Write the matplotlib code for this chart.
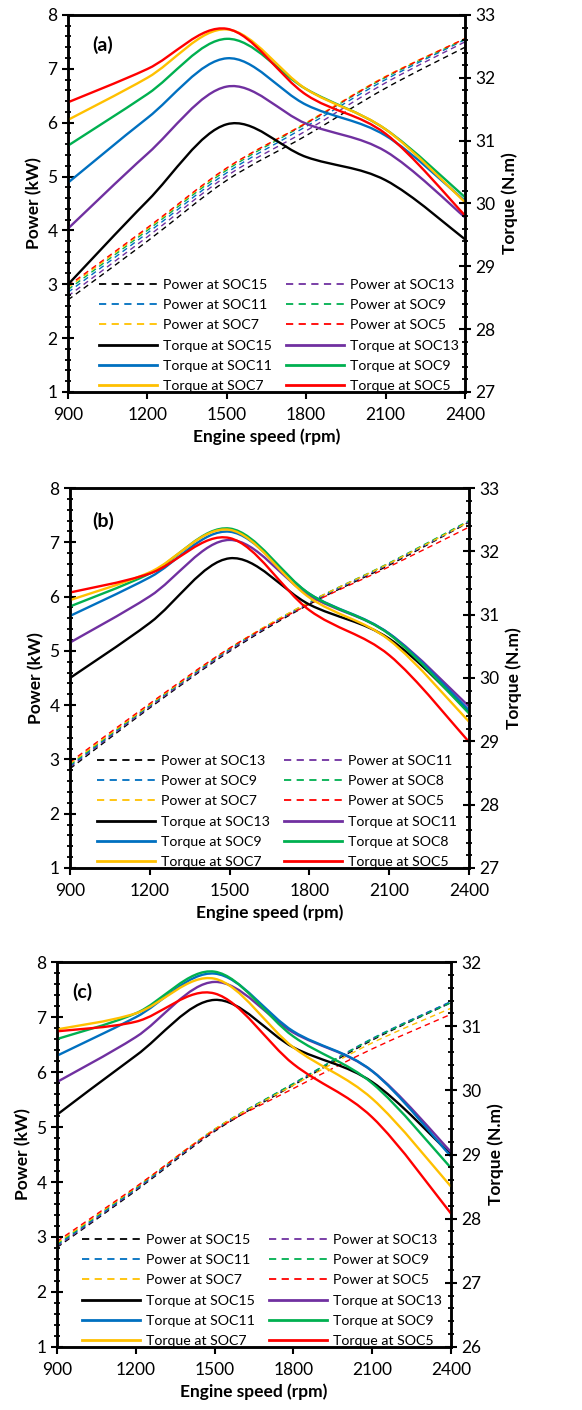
import matplotlib
matplotlib.use("Agg")
import matplotlib.pyplot as plt
from matplotlib.path import Path
from matplotlib.patches import PathPatch
from matplotlib.lines import Line2D
from matplotlib.ticker import MultipleLocator

plt.rcParams['font.family'] = ['Lato', 'DejaVu Sans']

# Engine speed (rpm)
speed = [900, 1200, 1500, 1800, 2100, 2400]
colors = ['#000000', '#7030A0', '#0070C0', '#00B050', '#FFC000', '#FF0000']

# (a)
soc_a = ['SOC15', 'SOC13', 'SOC11', 'SOC9', 'SOC7', 'SOC5']
power_a = [
    [2.71, 3.80, 4.93, 5.76, 6.64, 7.40],
    [2.78, 3.88, 5.01, 5.85, 6.74, 7.50],
    [2.85, 3.95, 5.07, 5.93, 6.80, 7.54],
    [2.90, 4.00, 5.12, 5.98, 6.84, 7.55],
    [2.94, 4.03, 5.15, 6.00, 6.86, 7.56],
    [2.97, 4.05, 5.16, 5.99, 6.85, 7.56],
]
torque_a = [
    [28.71, 30.04, 31.26, 30.74, 30.37, 29.43],
    [29.60, 30.79, 31.86, 31.27, 30.83, 29.78],
    [30.33, 31.36, 32.31, 31.57, 31.08, 30.04],
    [30.92, 31.74, 32.62, 31.82, 31.18, 30.10],
    [31.33, 32.00, 32.77, 31.82, 31.18, 30.02],
    [31.61, 32.14, 32.78, 31.73, 31.11, 29.81],
]

# (b)
soc_b = ['SOC13', 'SOC11', 'SOC9', 'SOC8', 'SOC7', 'SOC5']
power_b = [
    [2.83, 3.95, 4.99, 5.86, 6.58, 7.37],
    [2.86, 3.97, 5.01, 5.88, 6.60, 7.38],
    [2.88, 3.99, 5.03, 5.89, 6.61, 7.39],
    [2.90, 4.00, 5.04, 5.90, 6.62, 7.40],
    [2.92, 4.01, 5.05, 5.90, 6.61, 7.38],
    [2.95, 4.03, 5.05, 5.86, 6.55, 7.28],
]
torque_b = [
    [30.00, 30.87, 31.89, 31.16, 30.62, 29.47],
    [30.56, 31.29, 32.18, 31.30, 30.70, 29.55],
    [30.98, 31.59, 32.31, 31.33, 30.70, 29.49],
    [31.13, 31.65, 32.36, 31.33, 30.69, 29.44],
    [31.23, 31.67, 32.34, 31.27, 30.60, 29.31],
    [31.35, 31.65, 32.21, 31.07, 30.36, 28.99],
]

# (c)
soc_c = ['SOC15', 'SOC13', 'SOC11', 'SOC9', 'SOC7', 'SOC5']
power_c = [
    [2.81, 3.84, 4.92, 5.76, 6.58, 7.26],
    [2.83, 3.86, 4.94, 5.78, 6.60, 7.28],
    [2.85, 3.87, 4.95, 5.79, 6.61, 7.28],
    [2.87, 3.89, 4.96, 5.79, 6.60, 7.26],
    [2.89, 3.90, 4.96, 5.76, 6.53, 7.16],
    [2.92, 3.91, 4.94, 5.70, 6.42, 7.05],
]
torque_c = [
    [29.62, 30.54, 31.41, 30.67, 30.13, 29.00],
    [30.13, 30.83, 31.69, 30.90, 30.30, 29.04],
    [30.54, 31.14, 31.82, 30.92, 30.30, 28.97],
    [30.80, 31.20, 31.85, 30.84, 30.11, 28.79],
    [30.95, 31.20, 31.74, 30.67, 29.87, 28.50],
    [30.92, 31.07, 31.51, 30.41, 29.58, 28.08],
]

DASH = (0, (4, 3))


def smooth_path(x, y):
    # excel style smoothed line: bezier segments through the points
    n = len(x)
    verts = [(x[0], y[0])]
    codes = [Path.MOVETO]
    for i in range(n - 1):
        xp, yp = (x[i - 1], y[i - 1]) if i > 0 else (x[i], y[i])
        xn, yn = (x[i + 2], y[i + 2]) if i + 2 < n else (x[i + 1], y[i + 1])
        c1 = (x[i] + (x[i + 1] - xp) / 6, y[i] + (y[i + 1] - yp) / 6)
        c2 = (x[i + 1] - (xn - x[i]) / 6, y[i + 1] - (yn - y[i]) / 6)
        verts += [c1, c2, (x[i + 1], y[i + 1])]
        codes += [Path.CURVE4] * 3
    return Path(verts, codes)


def curve(ax, y, color, ls, lw):
    ax.add_patch(PathPatch(smooth_path(speed, y), fill=False, edgecolor=color,
                           linestyle=ls, linewidth=lw, capstyle='butt'))


def panel(rect, tag, socs, power, torque, tmin, legend_x, tag_xy):
    ax = fig.add_axes(rect)
    ax2 = ax.twinx()
    for i in range(6):
        curve(ax, power[i], colors[i], DASH, 1.0)
        curve(ax2, torque[i], colors[i], '-', 1.7)

    ax.set_xlim(900, 2400)
    ax.set_ylim(1, 8)
    ax2.set_ylim(tmin, tmin + 6)
    ax.set_xticks(range(900, 2401, 300))
    ax.yaxis.set_major_locator(MultipleLocator(1))
    ax.yaxis.set_minor_locator(MultipleLocator(0.2))
    ax2.yaxis.set_major_locator(MultipleLocator(1))
    ax2.yaxis.set_minor_locator(MultipleLocator(0.2))
    for a in (ax, ax2):
        for s in a.spines.values():
            s.set_linewidth(1.8)
    ax.tick_params(axis='x', direction='out', length=5, width=1.5, labelsize=12.5, pad=6)
    ax.tick_params(axis='y', which='major', direction='inout', length=8, width=1.5, labelsize=12.5)
    ax.tick_params(axis='y', which='minor', direction='inout', length=5, width=1.3)
    ax2.tick_params(axis='y', which='major', direction='inout', length=8, width=1.5, labelsize=12.5)
    ax2.tick_params(axis='y', which='minor', direction='inout', length=5, width=1.3)

    ax.set_xlabel('Engine speed (rpm)', fontsize=12.5, fontweight='bold', labelpad=4)
    ax.set_ylabel('Power (kW)', fontsize=12.5, fontweight='bold', labelpad=4)
    ax2.set_ylabel('Torque (N.m)', fontsize=12.5, fontweight='bold', labelpad=4)
    ax.text(tag_xy[0], tag_xy[1], tag, transform=ax.transAxes, fontsize=14,
            fontweight='bold', va='center', ha='left')

    handles, labels = [], []
    for col in (0, 1):
        for kind in ('Power', 'Torque'):
            for i in range(col, 6, 2):
                if kind == 'Power':
                    handles.append(Line2D([], [], color=colors[i], lw=1.3, ls=DASH))
                else:
                    handles.append(Line2D([], [], color=colors[i], lw=2.0))
                labels.append(f'{kind} at {socs[i]}')
    ax2.legend(handles, labels, ncol=2, loc='lower left', bbox_to_anchor=(legend_x, 0.0),
               frameon=False, fontsize=10.2, handlelength=4.1, handletextpad=0.45,
               columnspacing=0.95, labelspacing=0.58, borderpad=0, borderaxespad=0)


fig = plt.figure(figsize=(5.82, 14.1), dpi=100)
panel([0.1168, 0.7220, 0.6821, 0.2674], '(a)', soc_a, power_a, torque_a, 27, 0.078, (0.06, 0.92))
panel([0.1203, 0.3844, 0.6856, 0.2695], '(b)', soc_b, power_b, torque_b, 27, 0.067, (0.055, 0.912))
panel([0.0979, 0.0447, 0.6770, 0.2730], '(c)', soc_c, power_c, torque_c, 26, 0.063, (0.038, 0.923))

fig.savefig('out.png', dpi=100)
